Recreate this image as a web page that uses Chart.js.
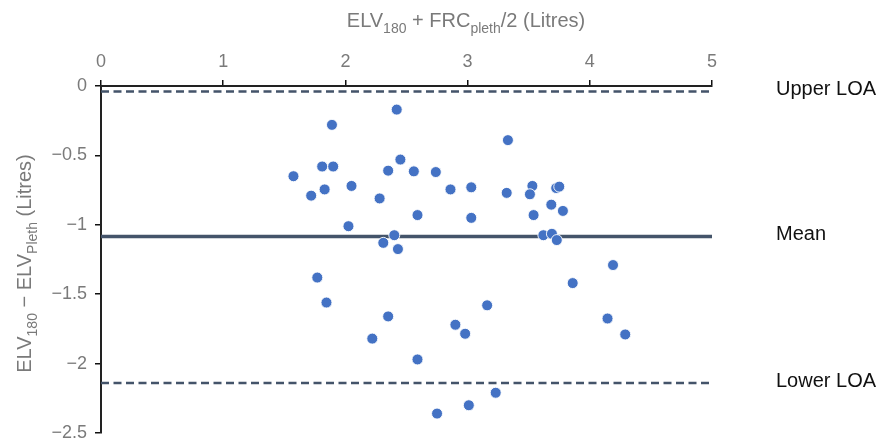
<!DOCTYPE html>
<html>
<head>
<meta charset="utf-8">
<script src="https://cdn.jsdelivr.net/npm/chart.js@4/dist/chart.umd.min.js"></script>
<style>
  html, body { margin: 0; padding: 0; background: #fff; }
  #wrap { width: 882px; height: 444px; position: relative; }
</style>
</head>
<body>
<div id="wrap"><canvas id="chart"></canvas></div>
<script>
// Bland-Altman: media (x) contra diferencia (y)
const xMedia = [2.42, 1.89, 3.33, 2.45, 1.81, 1.90, 2.35, 2.56, 2.74, 1.575, 2.05, 1.83, 1.72, 2.28, 2.59, 2.025,
                2.40, 2.31, 2.43, 1.77, 2.86, 3.03, 3.32, 3.53, 3.51, 3.725, 3.75, 3.685, 3.78, 3.03, 3.54, 3.62,
                3.69, 3.73, 4.19, 3.86, 1.845, 2.35, 2.22, 2.59, 2.75, 3.16, 2.90, 2.98, 4.145, 4.29, 3.23, 3.01];
const yDif   = [-0.17, -0.28, -0.39, -0.53, -0.58, -0.58, -0.61, -0.615, -0.62, -0.65, -0.72, -0.745, -0.79, -0.81, -0.93, -1.01,
                -1.075, -1.13, -1.175, -1.38, -0.745, -0.73, -0.77, -0.72, -0.78, -0.735, -0.725, -0.855, -0.90, -0.95, -0.93, -1.075,
                -1.065, -1.11, -1.29, -1.42, -1.56, -1.66, -1.82, -1.97, -2.36, -1.58, -1.72, -1.785, -1.675, -1.79, -2.21, -2.30];

const limUpper = -0.04;
const limMean  = -1.085;
const limLower = -2.14;
const lineLabels = ['Upper LOA', 'Mean', 'Lower LOA'];

const xTicks = [0, 1, 2, 3, 4, 5];
const yTicks = [0, -0.5, -1, -1.5, -2, -2.5];

const xRange = [xTicks[0], xTicks[xTicks.length - 1]];

const FONT = '"Liberation Sans", Arial, Helvetica, sans-serif';
const GRIS = '#7a7a7a';
const LINEA = '#44546a';

// Texto con subíndices: partes [texto, esSub]
function textoSub(ctx, partes, size, x, y, align) {
  const subSize = Math.round(size * 0.72);
  let total = 0;
  partes.forEach(p => {
    ctx.font = (p[1] ? subSize : size) + 'px ' + FONT;
    total += ctx.measureText(p[0]).width;
  });
  let cx = align === 'center' ? x - total / 2 : x;
  partes.forEach(p => {
    ctx.font = (p[1] ? subSize : size) + 'px ' + FONT;
    ctx.fillText(p[0], cx, p[1] ? y + size * 0.28 : y);
    cx += ctx.measureText(p[0]).width;
  });
}

const titulos = {
  id: 'titulos',
  afterDraw(chart) {
    const { ctx, chartArea, scales } = chart;
    ctx.save();
    ctx.fillStyle = GRIS;
    ctx.textBaseline = 'alphabetic';
    ctx.textAlign = 'left';
    textoSub(ctx, [['ELV', false], ['180', true], [' + FRC', false], ['pleth', true], ['/2 (Litres)', false]], 20, 466, 27, 'center');

    const cyT = (chartArea.top + chartArea.bottom) / 2 + 4;
    ctx.translate(31, cyT);
    ctx.rotate(-Math.PI / 2);
    textoSub(ctx, [['ELV', false], ['180', true], [' \u2212 ELV', false], ['Pleth', true], [' (Litres)', false]], 20, 0, 0, 'center');
    ctx.restore();

    // Etiquetas de las líneas a la derecha
    ctx.save();
    ctx.fillStyle = '#111';
    ctx.font = '20px ' + FONT;
    ctx.textAlign = 'left';
    ctx.textBaseline = 'middle';
    [limUpper, limMean, limLower].forEach((v, i) => {
      ctx.fillText(lineLabels[i], 776, scales.y.getPixelForValue(v) - 2);
    });
    ctx.restore();
  }
};

const lineaDs = (v, dash, w) => ({
  type: 'line',
  data: xRange.map(x => ({ x, y: v })),
  borderColor: LINEA,
  borderWidth: w,
  borderDash: dash,
  pointRadius: 0,
  fill: false,
  order: 2
});

new Chart(document.getElementById('chart'), {
  type: 'scatter',
  data: {
    datasets: [
      {
        data: xMedia.map((x, i) => ({ x, y: yDif[i] })),
        backgroundColor: '#4472c4',
        borderColor: 'rgba(255,255,255,0.9)',
        borderWidth: 1,
        pointRadius: 5.5,
        order: 1
      },
      lineaDs(limUpper, [8, 4.5], 2.5),
      lineaDs(limMean, [], 3.5),
      lineaDs(limLower, [8, 4.5], 2.5)
    ]
  },
  options: {
    responsive: true,
    maintainAspectRatio: false,
    animation: false,
    layout: { padding: { top: 0, left: 0, right: 170, bottom: 11 } },
    plugins: { legend: { display: false }, tooltip: { enabled: false } },
    scales: {
      x: {
        type: 'linear',
        position: 'top',
        min: xRange[0], max: xRange[1],
        afterBuildTicks: s => { s.ticks = xTicks.map(v => ({ value: v })); },
        afterFit: s => { s.height = 86; s.paddingLeft = 0; s.paddingRight = 0; },
        ticks: { color: GRIS, font: { family: FONT, size: 18 }, padding: 7 },
        grid: { drawOnChartArea: false, drawTicks: true, tickLength: 6, color: '#111', lineWidth: 1.5 },
        border: { display: true, color: '#222', width: 2 }
      },
      y: {
        type: 'linear',
        min: yTicks[yTicks.length - 1], max: yTicks[0],
        afterBuildTicks: s => { s.ticks = yTicks.map(v => ({ value: v })); },
        afterFit: s => { s.width = 101; s.paddingTop = 0; s.paddingBottom = 0; },
        ticks: {
          color: GRIS, font: { family: FONT, size: 18 }, padding: 8,
          callback: v => String(v).replace('-', '\u2212')
        },
        grid: { drawOnChartArea: false, drawTicks: true, tickLength: 6, color: '#111', lineWidth: 1.5 },
        border: { display: true, color: '#222', width: 2 }
      }
    }
  },
  plugins: [titulos]
});
</script>
</body>
</html>
